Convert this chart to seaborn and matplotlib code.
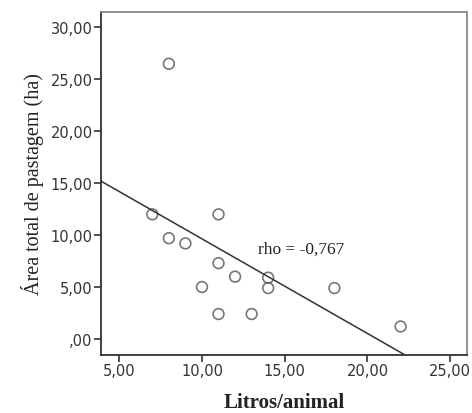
import matplotlib
matplotlib.use("Agg")
import matplotlib.pyplot as plt
import seaborn as sns
import pandas as pd
from matplotlib.ticker import FuncFormatter


# Data
litros_animal = [8, 7, 11, 8, 9, 11, 12, 10, 11, 14, 14, 13, 18, 22]
area_pastagem = [26.5, 12.0, 12.0, 9.7, 9.2, 7.3, 6.0, 5.0, 2.4, 5.9, 4.9, 2.4, 4.9, 1.2]
x_ticks = [5, 10, 15, 20, 25]
y_ticks = [0, 5, 10, 15, 20, 25, 30]
rho_label = "rho = -0,767"


def comma_format(value, pos):
    text = f"{value:.2f}".replace(".", ",")
    if text.startswith("0,"):
        text = text[1:]
    return text


def main() -> None:
    sns.set_theme(style="white")
    plt.rcParams["font.family"] = ["DejaVu Sans"]

    df = pd.DataFrame({"litros": litros_animal, "area": area_pastagem})

    fig = plt.figure(figsize=(4.72, 4.14), dpi=100)
    ax = fig.add_axes([0.214, 0.140, 0.775, 0.829])
    ax.set_xlim(3.9, 26.0)
    ax.set_ylim(-1.55, 31.5)

    sns.regplot(
        data=df,
        x="litros",
        y="area",
        ax=ax,
        ci=None,
        truncate=False,
        scatter_kws={"s": 60, "facecolors": "none", "edgecolors": "#555555",
                     "linewidths": 1.2},
        line_kws={"color": "#333333", "linewidth": 1.1},
    )

    ax.set_xlim(3.9, 26.0)
    ax.set_ylim(-1.55, 31.5)
    ax.set_xticks(x_ticks)
    ax.set_yticks(y_ticks)
    ax.xaxis.set_major_formatter(FuncFormatter(comma_format))
    ax.yaxis.set_major_formatter(FuncFormatter(comma_format))
    ax.tick_params(axis="both", which="major", direction="out", length=5,
                   width=1.2, color="#333333", labelsize=10.5,
                   labelcolor="#333333", pad=1)
    ax.tick_params(axis="x", bottom=True)
    ax.tick_params(axis="y", left=True)

    for side in ["left", "bottom"]:
        ax.spines[side].set_color("#333333")
        ax.spines[side].set_linewidth(1.3)
    for side in ["top", "right"]:
        ax.spines[side].set_color("#888888")
        ax.spines[side].set_linewidth(1.3)

    ax.text(16.0, 8.7, rho_label, ha="center", va="center", fontsize=12.5,
            family="Liberation Serif", color="#222222")

    ax.set_xlabel("Litros/animal", family="Liberation Serif", fontsize=15,
                  fontweight="bold", color="#222222", labelpad=10)
    ax.set_ylabel("Área total de pastagem (ha)", family="Liberation Serif",
                  fontsize=14.5, color="#222222", labelpad=5)

    fig.savefig("out.png", dpi=100)
    plt.close(fig)


if __name__ == "__main__":
    main()
